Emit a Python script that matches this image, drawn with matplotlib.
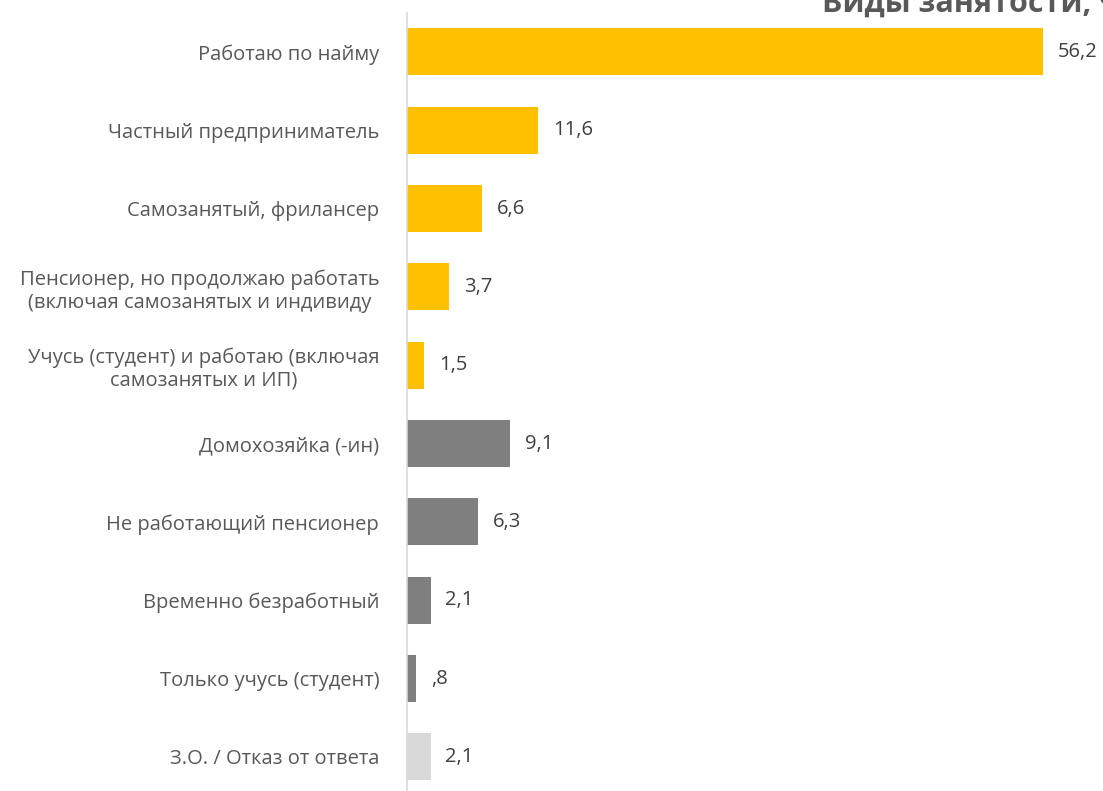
import numpy as np
import matplotlib.pyplot as plt

# ---- data ----
categories = [
    "Работаю по найму",
    "Частный предприниматель",
    "Самозанятый, фрилансер",
    "Пенсионер, но продолжаю работать\n(включая самозанятых и индивиду",
    "Учусь (студент) и работаю (включая\nсамозанятых и ИП)",
    "Домохозяйка (-ин)",
    "Не работающий пенсионер",
    "Временно безработный",
    "Только учусь (студент)",
    "З.О. / Отказ от ответа",
]
values = [56.2, 11.6, 6.6, 3.7, 1.5, 9.1, 6.3, 2.1, 0.8, 2.1]
value_labels = ["56,2", "11,6", "6,6", "3,7", "1,5", "9,1", "6,3", "2,1", ",8", "2,1"]
groups = ["work"] * 5 + ["nowork"] * 4 + ["na"]

colors = {"work": "#FFC000", "nowork": "#7F7F7F", "na": "#D9D9D9"}

plt.rcParams['font.family'] = ['Open Sans', 'DejaVu Sans']

W, H = 1103, 791
fig = plt.figure(figsize=(W / 100, H / 100), dpi=100)
# axes placed in pixel terms
x0, x1 = 407, 1103
y_top, y_bot = 12.8, 796
ax = fig.add_axes([x0 / W, 1 - y_bot / H, (x1 - x0) / W, (y_bot - y_top) / H])

y = np.arange(len(categories))
ax.barh(y, values, height=0.6, color=[colors[g] for g in groups])
ax.set_ylim(len(categories) - 0.5, -0.5)
ax.set_xlim(0, 61.5)

for yi, v, lab in zip(y, values, value_labels):
    ax.text(v + 1.3, yi, lab, va='center', ha='left', fontsize=14.5, color='#404040')

ax.set_yticks(y)
ax.set_yticklabels(categories, fontsize=14.5, color='#595959', multialignment='center')
ax.tick_params(axis='y', length=0, pad=20)
ax.set_xticks([])

for s in ['top', 'right', 'bottom']:
    ax.spines[s].set_visible(False)
ax.spines['left'].set_color('#D9D9D9')
ax.spines['left'].set_linewidth(1.2)

# title, clipped at the top/right edge like the original
fig.text(822 / W, 1 - 12 / H, "Виды занятости, %", fontsize=22, fontweight='bold',
         color='#595959', ha='left', va='baseline')

fig.savefig("out.png", dpi=100)
